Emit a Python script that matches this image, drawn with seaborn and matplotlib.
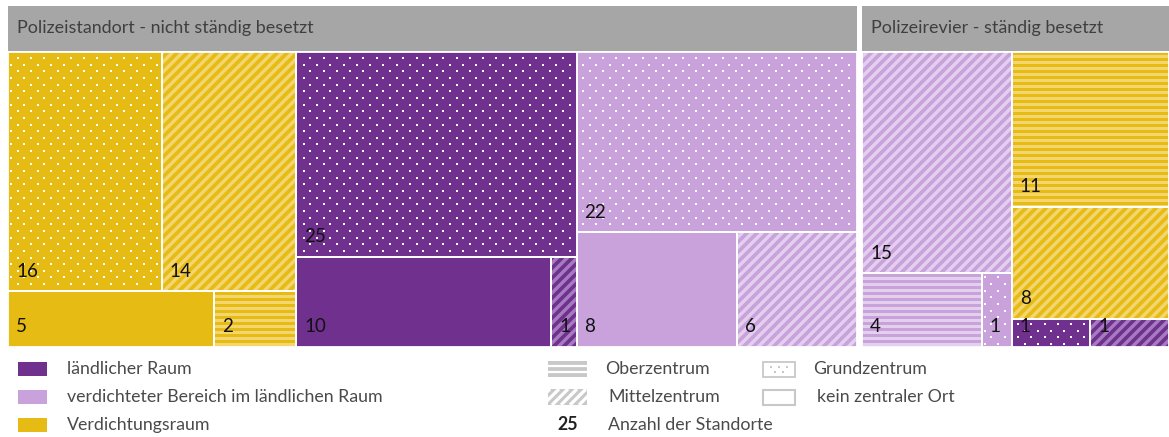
import matplotlib
matplotlib.use("Agg")
import numpy as np
import matplotlib.pyplot as plt
import seaborn as sns
from matplotlib.patches import Rectangle
from matplotlib.collections import LineCollection

sns.set_theme(style="white")
plt.rcParams["font.family"] = ["Lato", "DejaVu Sans"]

# ---- data -------------------------------------------------------------
panel_titles = ["Polizeistandort - nicht ständig besetzt",
                "Polizeirevier - ständig besetzt"]

regions = ["ländlicher Raum",
           "verdichteter Bereich im ländlichen Raum",
           "Verdichtungsraum"]
centre_types = ["Oberzentrum", "Mittelzentrum", "Grundzentrum",
                "kein zentraler Ort"]

# one entry per tile: panel, column group, row inside the column
cell_panel  = [0, 0, 0, 0,  0, 0, 0,  0, 0, 0,  1, 1, 1,  1, 1, 1, 1]
cell_column = [0, 0, 0, 0,  1, 1, 1,  2, 2, 2,  0, 0, 0,  1, 1, 1, 1]
cell_row    = [0, 0, 1, 1,  0, 1, 1,  0, 1, 1,  0, 1, 1,  0, 1, 2, 2]
cell_region = [2, 2, 2, 2,  0, 0, 0,  1, 1, 1,  1, 1, 1,  2, 2, 0, 0]
cell_centre = ["Grundzentrum", "Mittelzentrum", "kein zentraler Ort", "Oberzentrum",
               "Grundzentrum", "kein zentraler Ort", "Mittelzentrum",
               "Grundzentrum", "kein zentraler Ort", "Mittelzentrum",
               "Mittelzentrum", "Oberzentrum", "Grundzentrum",
               "Oberzentrum", "Mittelzentrum", "Grundzentrum", "Mittelzentrum"]
cell_count  = [16, 14, 5, 2,  25, 10, 1,  22, 8, 6,  15, 4, 1,  11, 8, 1, 1]

# ---- styling ----------------------------------------------------------
base_colors = sns.color_palette(["#70308e", "#c9a2dc", "#e6bc14"])
tint_colors = sns.color_palette(["#a57cc0", "#e3d0ee", "#f3d66f"])
header_grey = "#a6a6a6"
text_dark = "#3f3f3f"
legend_text = "#4a4a4a"

FIG_W, FIG_H = 1169, 437
fig = plt.figure(figsize=(FIG_W / 100, FIG_H / 100), dpi=100)


def fig_rect(x0, y0, x1, y1):
    """pixel box (top-left origin) -> figure fraction rect"""
    return [x0 / FIG_W, 1 - y1 / FIG_H, (x1 - x0) / FIG_W, (y1 - y0) / FIG_H]


panel_px = [(8, 857), (862, 1169)]
HEAD_TOP, HEAD_BOT = 6, 51
TILE_TOP, TILE_BOT = 52, 347


def slice_layout(idx):
    """slice-and-dice: column widths by column sums, row heights by row
    sums within a column, tile widths by count within a row"""
    total = sum(cell_count[i] for i in idx)
    rects = {}
    x = 0.0
    for c in sorted({cell_column[i] for i in idx}):
        ci = [i for i in idx if cell_column[i] == c]
        csum = sum(cell_count[i] for i in ci)
        cw = csum / total
        ytop = 1.0
        for r in sorted({cell_row[i] for i in ci}):
            ri = [i for i in ci if cell_row[i] == r]
            rsum = sum(cell_count[i] for i in ri)
            rh = rsum / csum
            xx = x
            for i in ri:
                w = cw * cell_count[i] / rsum
                rects[i] = (xx, ytop - rh, w, rh)
                xx += w
            ytop -= rh
        x += cw
    return rects


def draw_dots(ax, rect, W, H, color, size_px=2.0, step=13.3):
    x0, y0, w, h = rect
    px0, py0, px1, py1 = x0 * W, y0 * H, (x0 + w) * W, (y0 + h) * H
    half = step / 2
    pts = []
    row = 0
    y = 3.0
    while y < H:
        off = 0 if row % 2 == 0 else half
        for xv in np.arange(off + 3, W, step):
            xr, yr = round(xv), round(y)
            if px0 + 2 < xr < px1 - 2 and py0 + 2 < yr < py1 - 2:
                pts.append((xr / W, yr / H))
        y += half
        row += 1
    if pts:
        pts = np.array(pts)
        s = (size_px * 72 / 100) ** 2
        ax.scatter(pts[:, 0], pts[:, 1], s=s, marker="s", color=color,
                   linewidths=0, zorder=3)


def draw_diag(ax, patch, rect, W, H, color, period=10.0, lw_px=3.4):
    x0, y0, w, h = rect
    px0, py0, px1, py1 = x0 * W, y0 * H, (x0 + w) * W, (y0 + h) * H
    segs = []
    c = np.floor((px0 - py1) / period) * period
    while c < px1 - py0 + period:
        # line: x - y = c
        segs.append([((py0 - 5 + c) / W, (py0 - 5) / H),
                     ((py1 + 5 + c) / W, (py1 + 5) / H)])
        c += period
    lc = LineCollection(segs, colors=[color], linewidths=lw_px * 0.72, zorder=3)
    ax.add_collection(lc)
    lc.set_clip_path(patch)


def draw_horiz(ax, patch, rect, W, H, color, period=6.0, lw_px=3.0):
    x0, y0, w, h = rect
    py0, py1 = y0 * H, (y0 + h) * H
    segs = []
    y = np.floor(py0 / period) * period + period / 2
    while y < py1 + period:
        segs.append([(x0, y / H), (x0 + w, y / H)])
        y += period
    lc = LineCollection(segs, colors=[color], linewidths=lw_px * 0.72, zorder=3)
    ax.add_collection(lc)
    lc.set_clip_path(patch)


for p, title in enumerate(panel_titles):
    xl, xr = panel_px[p]
    # header bar
    hax = fig.add_axes(fig_rect(xl, HEAD_TOP, xr, HEAD_BOT))
    hax.set_xlim(0, 1)
    hax.set_ylim(0, 1)
    hax.set_facecolor(header_grey)
    for s in hax.spines.values():
        s.set_visible(False)
    hax.set_xticks([])
    hax.set_yticks([])
    hax.text(9 / (xr - xl), 0.5, title, ha="left", va="center",
             fontsize=12.9, color=text_dark)

    # tiles
    ax = fig.add_axes(fig_rect(xl, TILE_TOP, xr, TILE_BOT))
    ax.set_xlim(0, 1)
    ax.set_ylim(0, 1)
    ax.set_axis_off()
    W, H = xr - xl, TILE_BOT - TILE_TOP

    idx = [i for i in range(len(cell_count)) if cell_panel[i] == p]
    rects = slice_layout(idx)
    for i in idx:
        r = rects[i]
        reg = cell_region[i]
        patch = Rectangle((r[0], r[1]), r[2], r[3], facecolor=base_colors[reg],
                          edgecolor="none", zorder=1)
        ax.add_patch(patch)
        kind = cell_centre[i]
        if kind == "Grundzentrum":
            draw_dots(ax, r, W, H, "white")
        elif kind == "Mittelzentrum":
            draw_diag(ax, patch, r, W, H, tint_colors[reg])
        elif kind == "Oberzentrum":
            draw_horiz(ax, patch, r, W, H, tint_colors[reg])
        ax.add_patch(Rectangle((r[0], r[1]), r[2], r[3], facecolor="none",
                               edgecolor="white", linewidth=1.3, zorder=4))
        ax.text(r[0] + 8 / W, r[1] + 20 / H, str(cell_count[i]),
                ha="left", va="center", fontsize=13.5, color="#111111",
                zorder=5)

# ---- legend -----------------------------------------------------------
lg = fig.add_axes([0, 0, 1, 1], zorder=-1)
lg.set_xlim(0, FIG_W)
lg.set_ylim(FIG_H, 0)
lg.set_axis_off()

row_y = [369, 397, 425]
for k, name in enumerate(regions):
    lg.add_patch(Rectangle((18, row_y[k] - 7), 29, 14,
                           facecolor=base_colors[k], edgecolor="none"))
    lg.text(67, row_y[k], name, ha="left", va="center", fontsize=12.8,
            color=legend_text)

swatch_grey = "#c8c8c8"
# Oberzentrum swatch
lg.add_patch(Rectangle((548, 361), 39, 16, facecolor=swatch_grey, edgecolor="none"))
for yy in (366.3, 371.7):
    lg.plot([548, 587], [yy, yy], color="white", lw=1.6)
# Mittelzentrum swatch
sw = Rectangle((548, 389), 39, 16, facecolor=swatch_grey, edgecolor="none")
lg.add_patch(sw)
segs = [[(548 + c, 405), (548 + c + 16, 389)] for c in np.arange(-14, 44, 9)]
lc = LineCollection(segs, colors=["white"], linewidths=2.4)
lg.add_collection(lc)
lc.set_clip_path(sw)
# Grundzentrum swatch
lg.add_patch(Rectangle((763, 362), 32, 15, facecolor="white",
                       edgecolor=swatch_grey, linewidth=1.3))
lg.scatter([771, 779, 787, 775, 783], [367, 367, 367, 372, 372], s=1.2,
           marker="s", color="#c8c8c8", linewidths=0)
# kein zentraler Ort swatch
lg.add_patch(Rectangle((763, 390), 32, 15, facecolor="white",
                       edgecolor=swatch_grey, linewidth=1.5))
lg.text(557, 425, "25", ha="left", va="center", fontsize=12.8,
        color="#222222", fontweight="bold")

legend_labels = [(605, 369, centre_types[0]), (608, 397, centre_types[1]),
                 (608, 425, "Anzahl der Standorte"),
                 (813, 369, centre_types[2]), (817, 397, centre_types[3])]
for x, y, t in legend_labels:
    lg.text(x, y, t, ha="left", va="center", fontsize=12.8, color=legend_text)

fig.savefig("out.png", dpi=100)
